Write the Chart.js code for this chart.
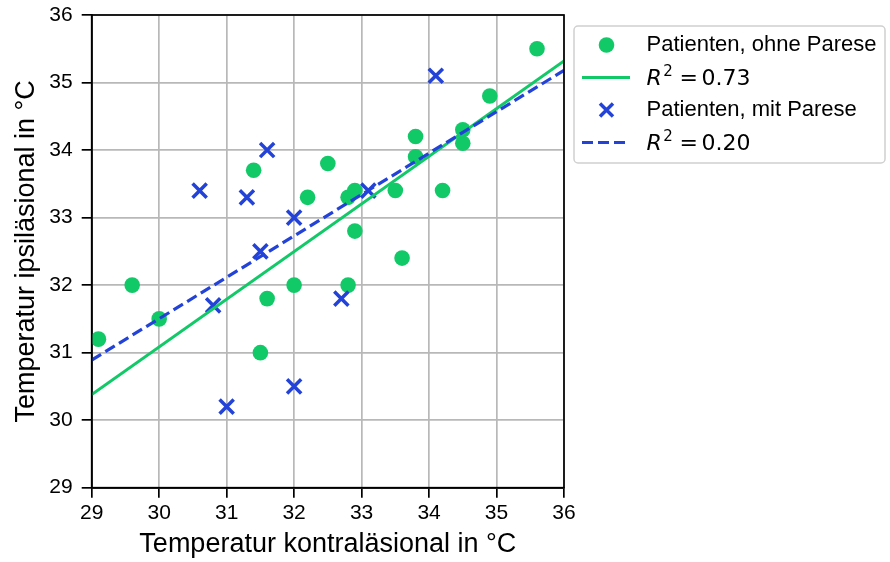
<!DOCTYPE html>
<html>
<head>
<meta charset="utf-8">
<script src="https://cdn.jsdelivr.net/npm/chart.js@4/dist/chart.umd.min.js"></script>
<style>
html, body { margin: 0; padding: 0; background: #fff; }
#box { width: 890px; height: 562px; }
</style>
</head>
<body>
<div id="box"><canvas id="temp_chart"></canvas></div>
<script>
// Patienten ohne Parese (kontra, ipsi)
var green_x = [29.1, 29.6, 30.0, 31.4, 31.5, 31.6, 32.0, 32.2, 32.5, 32.8, 32.9, 32.9, 32.8, 33.5, 33.6, 33.8, 33.8, 34.2, 34.5, 34.5, 34.9, 35.6];
var green_y = [31.2, 32.0, 31.5, 33.7, 31.0, 31.8, 32.0, 33.3, 33.8, 33.3, 33.4, 32.8, 32.0, 33.4, 32.4, 34.2, 33.9, 33.4, 34.3, 34.1, 34.8, 35.5];
// Patienten mit Parese
var blue_x = [30.6, 31.3, 31.6, 32.0, 31.5, 30.8, 31.0, 32.0, 32.7, 33.1, 34.1];
var blue_y = [33.4, 33.3, 34.0, 33.0, 32.5, 31.7, 30.2, 30.5, 31.8, 33.4, 35.1];
// Regressionsgeraden (Endpunkte)
var fit_x = [29, 36];
var fit_green_y = [30.38, 35.32];
var fit_blue_y = [30.89, 35.18];
// Achsen
var axis_min = 29;
var axis_max = 36;
var legend_labels = ['Patienten, ohne Parese', 'R2 = 0.73', 'Patienten, mit Parese', 'R2 = 0.20'];

var GREEN = '#12c968';
var BLUE = '#2343d8';
var FONT = "'Liberation Sans', Arial, sans-serif";

function zip(xs, ys)
{
	var out = [];
	for(var i = 0; i < xs.length; i++)
		out.push({x: xs[i], y: ys[i]});
	return out;
}

var frame_plugin = {
	id: 'frame',
	afterDatasetsDraw: function(chart)
	{
		var a = chart.chartArea, ctx = chart.ctx;
		ctx.save();
		ctx.strokeStyle = '#000';
		ctx.lineWidth = 1.7;
		ctx.strokeRect(a.left, a.top, a.right - a.left, a.bottom - a.top);
		ctx.restore();
	}
};

function draw_r2(ctx, x, y, value)
{
	ctx.textBaseline = 'alphabetic';
	ctx.textAlign = 'left';
	ctx.font = "oblique 22px 'DejaVu Sans'";
	ctx.fillText('R', x, y);
	var w = ctx.measureText('R').width;
	ctx.font = "15px 'DejaVu Sans'";
	ctx.fillText('2', x + w + 1.5, y - 9.5);
	ctx.font = "22px 'DejaVu Sans'";
	ctx.fillText('=', x + 33, y);
	ctx.fillText(value, x + 55, y);
}

var legend_plugin = {
	id: 'side_legend',
	afterDraw: function(chart)
	{
		var ctx = chart.ctx;
		var bx = 574, by = 26, bw = 311, bh = 137, r = 4;
		ctx.save();
		ctx.beginPath();
		ctx.moveTo(bx + r, by);
		ctx.arcTo(bx + bw, by, bx + bw, by + bh, r);
		ctx.arcTo(bx + bw, by + bh, bx, by + bh, r);
		ctx.arcTo(bx, by + bh, bx, by, r);
		ctx.arcTo(bx, by, bx + bw, by, r);
		ctx.closePath();
		ctx.fillStyle = 'rgba(255,255,255,0.8)';
		ctx.fill();
		ctx.strokeStyle = '#d0d0d0';
		ctx.lineWidth = 1.5;
		ctx.stroke();

		var rows = [45, 77.5, 110, 142.5];
		var mx = 606.5, tx = 646.5;
		// circle
		ctx.fillStyle = GREEN;
		ctx.beginPath();
		ctx.arc(mx, rows[0], 7.8, 0, Math.PI * 2);
		ctx.fill();
		// green line
		ctx.strokeStyle = GREEN;
		ctx.lineWidth = 3;
		ctx.beginPath();
		ctx.moveTo(582, rows[1]);
		ctx.lineTo(630, rows[1]);
		ctx.stroke();
		// cross
		ctx.strokeStyle = BLUE;
		ctx.lineWidth = 3.5;
		var d = 6.5;
		ctx.beginPath();
		ctx.moveTo(mx - d, rows[2] - d); ctx.lineTo(mx + d, rows[2] + d);
		ctx.moveTo(mx + d, rows[2] - d); ctx.lineTo(mx - d, rows[2] + d);
		ctx.stroke();
		// dashed line
		ctx.setLineDash([11, 5]);
		ctx.lineWidth = 3.2;
		ctx.beginPath();
		ctx.moveTo(582, rows[3]);
		ctx.lineTo(630, rows[3]);
		ctx.stroke();
		ctx.setLineDash([]);

		ctx.fillStyle = '#000';
		ctx.font = '22px ' + FONT;
		ctx.textBaseline = 'middle';
		ctx.textAlign = 'left';
		ctx.fillText(legend_labels[0], tx, rows[0]);
		ctx.fillText(legend_labels[2], tx, rows[2]);
		draw_r2(ctx, tx, rows[1] + 7.5, '0.73');
		draw_r2(ctx, tx, rows[3] + 7.5, '0.20');
		ctx.restore();
	}
};

function axis_options(title, is_x)
{
	return {
		type: 'linear',
		min: axis_min,
		max: axis_max,
		position: is_x ? 'bottom' : 'left',
		ticks: {
			stepSize: 1,
			color: '#000',
			font: {family: FONT, size: 21},
			padding: is_x ? 3 : 9
		},
		grid: {
			color: '#b8b8b8',
			lineWidth: 1.7,
			tickLength: 10,
			tickColor: '#000',
			tickWidth: 1.7,
			drawTicks: true
		},
		border: {color: '#000', width: 1.7},
		title: {
			display: true,
			text: title,
			color: '#000',
			font: {family: FONT, size: 27},
			padding: is_x ? {top: 0, bottom: 1} : {top: 10.5, bottom: 0}
		},
		afterFit: function(scale)
		{
			if(is_x) scale.height = 74.3;
			else
			{
				scale.width = 91.7;
				scale.paddingTop = 0;
				scale.paddingBottom = 0;
			}
		}
	};
}

var ctx = document.getElementById('temp_chart').getContext('2d');
var temp_chart = new Chart(ctx, {
	type: 'scatter',
	data: {
		datasets: [
			{
				label: legend_labels[3],
				data: zip(fit_x, fit_blue_y),
				showLine: true,
				borderColor: BLUE,
				borderWidth: 3.2,
				borderDash: [11, 5],
				pointRadius: 0,
				order: 0
			},
			{
				label: legend_labels[1],
				data: zip(fit_x, fit_green_y),
				showLine: true,
				borderColor: GREEN,
				borderWidth: 3,
				pointRadius: 0,
				order: 1
			},
			{
				label: legend_labels[2],
				data: zip(blue_x, blue_y),
				pointStyle: 'crossRot',
				pointRadius: 10,
				borderColor: BLUE,
				borderWidth: 3.5,
				order: 2
			},
			{
				label: legend_labels[0],
				data: zip(green_x, green_y),
				pointStyle: 'circle',
				pointRadius: 7.8,
				backgroundColor: GREEN,
				borderWidth: 0,
				order: 3
			}
		]
	},
	options: {
		responsive: true,
		maintainAspectRatio: false,
		animation: false,
		layout: {padding: {top: 15, right: 326, left: 0, bottom: 0}},
		plugins: {
			legend: {display: false},
			tooltip: {enabled: false}
		},
		scales: {
			x: axis_options('Temperatur kontraläsional in °C', true),
			y: axis_options('Temperatur ipsiläsional in °C', false)
		}
	},
	plugins: [frame_plugin, legend_plugin]
});
</script>
</body>
</html>
